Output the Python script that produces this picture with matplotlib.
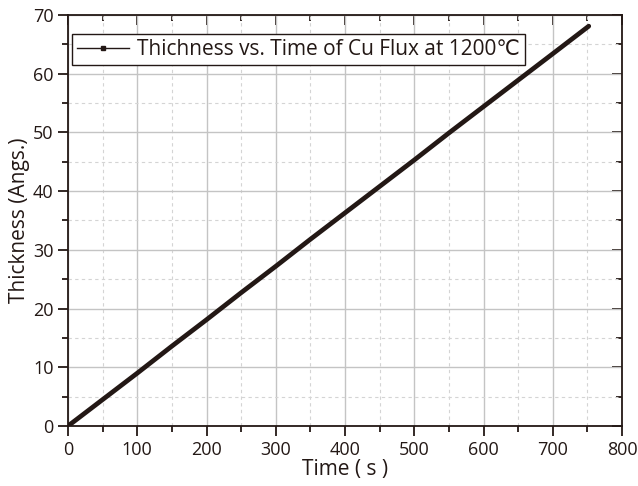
import matplotlib
matplotlib.use("Agg")
import matplotlib.pyplot as plt
from matplotlib.ticker import MultipleLocator
from matplotlib.lines import Line2D

plt.rcParams['font.family'] = ['Open Sans', 'DejaVu Sans']

time_s = [0, 50, 100, 150, 200, 250, 300, 350, 400, 450, 500, 550, 600, 650, 700, 752]
thickness = [0.0, 4.5, 9.0, 13.6, 18.1, 22.7, 27.2, 31.8, 36.3, 40.8, 45.3, 49.9, 54.4, 58.9, 63.4, 68.1]
label = "Thichness vs. Time of Cu Flux at 1200\u2103"

dark = "#231815"

fig = plt.figure(figsize=(6.38, 4.86), dpi=100)
ax = fig.add_axes([68/638, 1-426/486, (622-68)/638, (426-15)/486])

ax.plot(time_s, thickness, color=dark, lw=3.4, solid_capstyle='round', zorder=3)

ax.set_xlim(0, 800)
ax.set_ylim(0, 70)
ax.xaxis.set_major_locator(MultipleLocator(100))
ax.xaxis.set_minor_locator(MultipleLocator(50))
ax.yaxis.set_major_locator(MultipleLocator(10))
ax.yaxis.set_minor_locator(MultipleLocator(5))

ax.grid(which='major', color='#c4c4c4', lw=1.0, ls='-', zorder=0)
ax.grid(which='minor', color='#d4d4d4', lw=0.8, ls=(0, (3, 3)), zorder=0)

for s in ax.spines.values():
    s.set_color(dark)
    s.set_linewidth(1.3)

ax.tick_params(which='both', direction='out', color=dark, width=1.3,
               labelsize=13, labelcolor=dark, top=False, right=False)
ax.tick_params(which='major', length=7)
ax.tick_params(which='minor', length=4)

sx = ax.secondary_xaxis('top')
sx.xaxis.set_major_locator(MultipleLocator(100))
sx.xaxis.set_minor_locator(MultipleLocator(50))
sx.tick_params(which='both', direction='in', labeltop=False, color=dark, width=1.3)
sx.tick_params(which='major', length=7)
sx.tick_params(which='minor', length=4)
sx.spines['top'].set_visible(False)

sy = ax.secondary_yaxis('right')
sy.yaxis.set_major_locator(MultipleLocator(10))
sy.yaxis.set_minor_locator(MultipleLocator(5))
sy.tick_params(which='both', direction='in', labelright=False, color=dark, width=1.3)
sy.tick_params(which='major', length=7)
sy.tick_params(which='minor', length=4)
sy.spines['right'].set_visible(False)

ax.set_xlabel("Time ( s )", fontsize=15, color=dark, labelpad=0)
ax.set_ylabel("Thickness (Angs.)", fontsize=15, color=dark, labelpad=2)

handle = Line2D([], [], color=dark, lw=1.0, marker='s', markersize=3)
leg = ax.legend([handle], [label], loc='upper left',
                bbox_to_anchor=((72-68)/554, (426-34)/411),
                fontsize=15, frameon=True, fancybox=False,
                edgecolor=dark, framealpha=1, borderpad=0.25, handlelength=2.5,
                handletextpad=0.35, borderaxespad=0)
leg.get_frame().set_linewidth(1.0)
for t in leg.get_texts():
    t.set_color(dark)

fig.savefig("out.png", dpi=100)
